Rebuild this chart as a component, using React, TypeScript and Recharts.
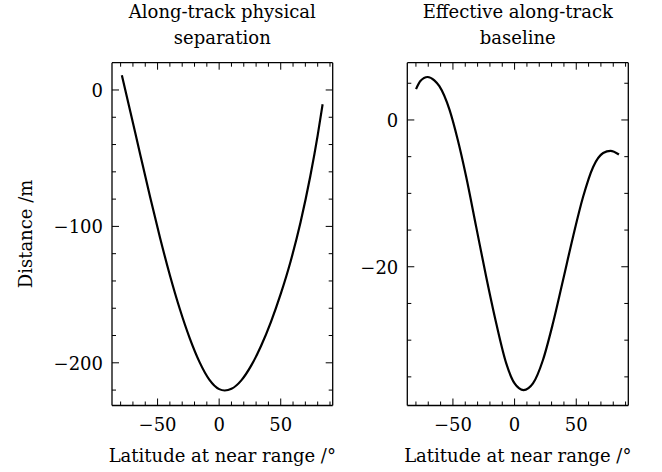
import { LineChart, Line, XAxis, YAxis } from 'recharts'

const lat1 = [-79, -72, -64, -56, -48, -40, -32, -24, -16, -8, 0, 4.5, 10, 18, 26, 34, 42, 50, 58, 66, 74, 80, 84]
const separation = [10.8, -16.3, -47.6, -78.6, -108.3, -135.8, -160.4, -181.7, -199.3, -212.3, -219.3, -220.3, -219.1, -212.9, -202.1, -187.7, -170.1, -149.5, -125.7, -97.3, -63.3, -33.3, -10.5]

const lat2 = [-79.9, -76.4, -70.5, -65.1, -61, -52.8, -46.1, -39.3, -31.1, -23, -14.9, -6.7, 0, 7.3, 14.9, 23, 31.1, 39.3, 47.4, 55.5, 63.7, 71.8, 77.8, 84.6]
const baseline = [4.2, 5.3, 5.85, 5.4, 4.6, 1.4, -2.7, -7.7, -14.6, -21.4, -27.7, -33.2, -35.9, -36.8, -35.9, -32.7, -27.7, -21.8, -15.9, -10.5, -6.4, -4.5, -4.2, -4.7]

const latTicks = [-80, -70, -60, -50, -40, -30, -20, -10, 0, 10, 20, 30, 40, 50, 60, 70, 80, 90]
const latMajor = [-50, 0, 50]
const sepTicks = [-220, -200, -180, -160, -140, -120, -100, -80, -60, -40, -20, 0]
const sepMajor = [-200, -100, 0]
const baseTicks = [-35, -30, -25, -20, -15, -10, -5, 0, 5]
const baseMajor = [-20, 0]

const FONT = '"DejaVu Serif", serif'
const FS = 18
const fmt = (v: number) => (v < 0 ? '\u2212' + Math.abs(v) : String(v))

const sepData = lat1.map((lat, i) => ({ lat, v: separation[i] }))
const baseData = lat2.map((lat, i) => ({ lat, v: baseline[i] }))

// inward ticks on every side, labels only on bottom/left majors
function tickFn(side: string, majors: number[], labels: boolean) {
  return (p: any) => {
    const { x, y, payload } = p
    const v = payload.value
    const major = majors.includes(v)
    const len = major ? 7 : 4
    let line = null
    let label = null
    if (side === 'bottom') {
      line = <line x1={x} x2={x} y1={y} y2={y - len} stroke="#000" />
      if (labels && major)
        label = <text x={x} y={y + 25} textAnchor="middle" fontSize={FS} fontFamily={FONT} fill="#000">{fmt(v)}</text>
    } else if (side === 'top') {
      line = <line x1={x} x2={x} y1={y} y2={y + len} stroke="#000" />
    } else if (side === 'left') {
      line = <line x1={x} x2={x + len} y1={y} y2={y} stroke="#000" />
      if (labels && major)
        label = <text x={x - 9} y={y + 7} textAnchor="end" fontSize={FS} fontFamily={FONT} fill="#000">{fmt(v)}</text>
    } else {
      line = <line x1={x} x2={x - len} y1={y} y2={y} stroke="#000" />
    }
    return <g>{line}{label}</g>
  }
}

const axisLine = { stroke: '#000', strokeWidth: 1.3 }
const xDomain: [number, number] = [-87, 92.2]

function Panel({ data, yDomain, yTicks, yMajor, left, width, margin }: any) {
  return (
    <div style={{ position: 'absolute', left, top: 0 }}>
      <LineChart width={width} height={472} data={data} margin={margin}>
        <XAxis xAxisId="b" dataKey="lat" type="number" domain={xDomain} allowDataOverflow ticks={latTicks} interval={0}
          height={1} tickSize={0} tickMargin={0} tickLine={false} axisLine={axisLine} tick={tickFn('bottom', latMajor, true)} />
        <XAxis xAxisId="t" orientation="top" dataKey="lat" type="number" domain={xDomain} allowDataOverflow ticks={latTicks} interval={0}
          height={1} tickSize={0} tickMargin={0} tickLine={false} axisLine={axisLine} tick={tickFn('top', latMajor, false)} />
        <YAxis yAxisId="l" type="number" domain={yDomain} allowDataOverflow ticks={yTicks} interval={0}
          width={1} tickSize={0} tickMargin={0} tickLine={false} axisLine={axisLine} tick={tickFn('left', yMajor, true)} />
        <YAxis yAxisId="r" orientation="right" type="number" domain={yDomain} allowDataOverflow ticks={yTicks} interval={0}
          width={1} tickSize={0} tickMargin={0} tickLine={false} axisLine={axisLine} tick={tickFn('right', yMajor, false)} />
        <Line xAxisId="b" yAxisId="l" dataKey="v" type="monotone" stroke="#000" strokeWidth={2.2} dot={false} isAnimationActive={false} />
        <Line xAxisId="t" yAxisId="r" dataKey="v" type="monotone" stroke="none" dot={false} isAnimationActive={false} />
      </LineChart>
    </div>
  )
}

const txt = { fontFamily: FONT, fontSize: FS, fill: '#000' }

export default function App() {
  return (
    <div style={{ position: 'absolute', left: 0, top: 0, width: 662, height: 472, background: '#fff' }}>
      <Panel data={sepData} yDomain={[-231.3, 20]} yTicks={sepTicks} yMajor={sepMajor} left={0} width={345}
        margin={{ top: 61.7, right: 11.3, bottom: 65.5, left: 111 }} />
      <Panel data={baseData} yDomain={[-38.9, 7.8]} yTicks={baseTicks} yMajor={baseMajor} left={345} width={317}
        margin={{ top: 61.7, right: 32.7, bottom: 65.5, left: 61.3 }} />
      <svg width={662} height={472} style={{ position: 'absolute', left: 0, top: 0, pointerEvents: 'none' }}>
        <text x={222.3} y={17.5} textAnchor="middle" {...txt}>Along-track physical</text>
        <text x={222.3} y={43.5} textAnchor="middle" {...txt}>separation</text>
        <text x={517.8} y={17.5} textAnchor="middle" {...txt}>Effective along-track</text>
        <text x={517.8} y={43.5} textAnchor="middle" {...txt}>baseline</text>
        <text x={222.3} y={461.5} textAnchor="middle" {...txt}>Latitude at near range /°</text>
        <text x={517.8} y={461.5} textAnchor="middle" {...txt}>Latitude at near range /°</text>
        <text transform="translate(32 234) rotate(-90)" textAnchor="middle" {...txt}>Distance /m</text>
      </svg>
    </div>
  )
}
